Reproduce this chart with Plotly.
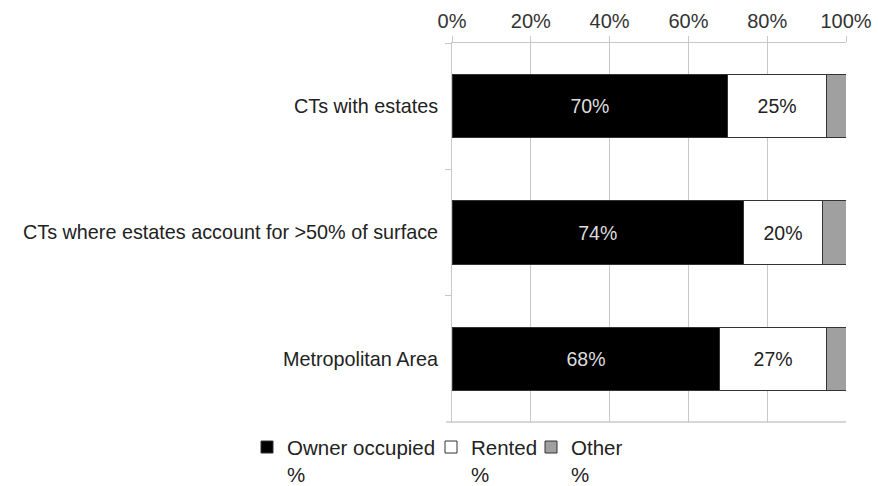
import plotly.graph_objects as go

categories = ["CTs with estates", "CTs where estates account for >50% of surface", "Metropolitan Area"]
owner = [70, 74, 68]
rented = [25, 20, 27]
other = [5, 6, 5]
series_names = ["Owner occupied<br>%", "Rented<br>%", "Other<br>%"]
tick_vals = [0, 20, 40, 60, 80, 100]
tick_text = ["0%", "20%", "40%", "60%", "80%", "100%"]

FONT = "Liberation Sans, Arial, sans-serif"

fig = go.Figure()
fig.add_trace(go.Bar(
    y=categories, x=owner, orientation="h", name=series_names[0], legend="legend",
    marker=dict(color="#000000", line=dict(color="#333333", width=1)),
    text=[f"{v}%" for v in owner], textposition="inside", insidetextanchor="middle",
    textfont=dict(color="#dddddd", size=19.5), hoverinfo="skip"))
fig.add_trace(go.Bar(
    y=categories, x=rented, orientation="h", name=series_names[1], legend="legend2",
    marker=dict(color="#ffffff", line=dict(color="#333333", width=1)),
    text=[f"{v}%" for v in rented], textposition="inside", insidetextanchor="middle",
    textfont=dict(color="#222222", size=19.5), hoverinfo="skip"))
fig.add_trace(go.Bar(
    y=categories, x=other, orientation="h", name=series_names[2], legend="legend3",
    marker=dict(color="#a0a0a0", line=dict(color="#333333", width=1)),
    hoverinfo="skip"))

legend_common = dict(orientation="h", xref="container", yref="container",
                     y=0.121, xanchor="left", yanchor="top",
                     font=dict(size=20.5, color="#222222"),
                     itemwidth=30, valign="top", bgcolor="rgba(0,0,0,0)")

fig.update_layout(
    barmode="stack", bargap=0.5,
    width=878, height=486,
    margin=dict(l=452, r=32, t=43, b=64, autoexpand=False),
    plot_bgcolor="white", paper_bgcolor="white",
    font=dict(family=FONT, size=19.5, color="#222222"),
    uniformtext=dict(mode="show", minsize=19),
    showlegend=True,
    legend=dict(x=247 / 878, **legend_common),
    legend2=dict(x=431 / 878, **legend_common),
    legend3=dict(x=531 / 878, **legend_common),
)
fig.update_xaxes(
    side="top", range=[0, 100], tickvals=tick_vals, ticktext=tick_text,
    showgrid=True, gridcolor="#c8c8c8", gridwidth=1, automargin=False,
    showline=True, linecolor="#c8c8c8", ticks="outside", tickcolor="#c8c8c8", ticklen=6,
    tickfont=dict(size=20, color="#333333"), zeroline=False, mirror=False)
fig.update_yaxes(
    autorange="reversed", type="category", automargin=False,
    showline=True, linecolor="#c8c8c8", ticks="outside", tickcolor="#c8c8c8", ticklen=6,
    tickson="boundaries", showgrid=False, ticklabelstandoff=9,
    tickfont=dict(size=19.8, color="#222222"))

# bottom axis line
fig.add_shape(type="line", xref="paper", yref="paper", x0=-0.015, x1=1, y0=0, y1=0,
              line=dict(color="#c8c8c8", width=1.5))

fig.write_html("out.html", config={"displayModeBar": False},
               post_script="document.body.style.margin='0';")
